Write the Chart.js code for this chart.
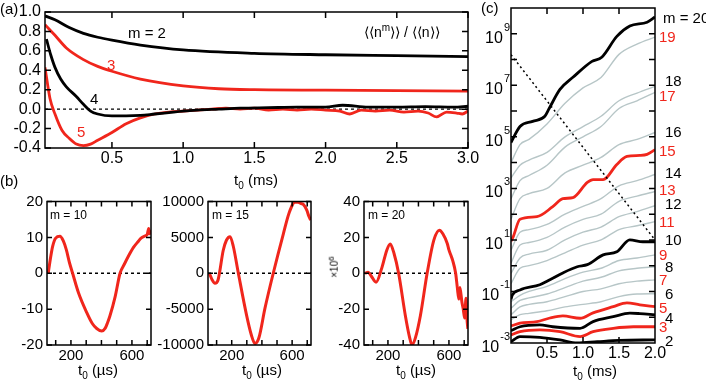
<!doctype html>
<html>
<head>
<meta charset="utf-8">
<script src="https://cdn.jsdelivr.net/npm/chart.js"></script>
<style>
body{margin:0;width:706px;height:386px;position:relative;overflow:hidden;background:#fff;font-family:"Liberation Sans",Arial,sans-serif;color:#000}
canvas{position:absolute}
.t{position:absolute;white-space:nowrap;line-height:1;font-size:15px}
.c{transform:translateX(-50%)}
.r{color:#f0261c}
sub,sup{font-size:10px;line-height:0}
</style>
</head>
<body>
<canvas id="ca" width="500" height="190" style="left:0;top:0"></canvas>
<canvas id="cb1" width="165" height="196" style="left:0;top:190px"></canvas>
<canvas id="cb2" width="170" height="196" style="left:150px;top:190px"></canvas>
<canvas id="cb3" width="170" height="196" style="left:315px;top:190px"></canvas>
<canvas id="cc" width="236" height="386" style="left:470px;top:0"></canvas>

<div class="t" style="left:0;top:1px">(a)</div>
<div class="t" style="left:0;top:173px">(b)</div>
<div class="t" style="left:481px;top:0">(c)</div>

<div class="t" style="left:128px;top:25px">m = 2</div>
<div class="t r" style="left:107px;top:57px">3</div>
<div class="t" style="left:90px;top:91px">4</div>
<div class="t r" style="left:77px;top:124px">5</div>
<div class="t" style="left:364px;top:25px;font-size:14px">⟨⟨n<sup>m</sup>⟩⟩ / ⟨⟨n⟩⟩</div>
<div class="t c" style="left:256px;top:172px">t<sub>0</sub> (ms)</div>

<div class="t" style="left:50px;top:209px;font-size:12px">m = 10</div>
<div class="t" style="left:212px;top:209px;font-size:12px">m = 15</div>
<div class="t" style="left:368px;top:209px;font-size:12px">m = 20</div>
<div class="t" style="left:324px;top:262px;font-size:10px;transform:rotate(-90deg);transform-origin:center">×10<sup style="font-size:8px">6</sup></div>
<div class="t c" style="left:98px;top:362px">t<sub>0</sub> (µs)</div>
<div class="t c" style="left:262px;top:362px">t<sub>0</sub> (µs)</div>
<div class="t c" style="left:416px;top:362px">t<sub>0</sub> (µs)</div>
<div class="t c" style="left:595px;top:363px">t<sub>0</sub> (ms)</div>

<div id="mlabels"></div>

<script>
// ---------- panel (a): <<n^m>>/<<n>> vs t0 (ms)
const aXTicks = [0.5, 1.0, 1.5, 2.0, 2.5, 3.0];
const aYTicks = [-0.4, -0.2, 0.0, 0.2, 0.4, 0.6, 0.8, 1.0];
const aT2 = [0.03, 0.1, 0.2, 0.3, 0.4, 0.5, 0.7, 1.0, 1.5, 2.0, 2.5, 3.0];
const aM2 = [0.96, 0.92, 0.84, 0.78, 0.74, 0.71, 0.66, 0.61, 0.575, 0.56, 0.55, 0.54];
const aT3 = [0.03, 0.1, 0.18, 0.3, 0.4, 0.5, 0.7, 1.0, 1.25, 1.5, 2.0, 2.5, 3.0];
const aM3 = [0.87, 0.76, 0.63, 0.51, 0.44, 0.39, 0.31, 0.24, 0.21, 0.20, 0.195, 0.19, 0.185];
const aT4 = [0.04, 0.07, 0.1, 0.14, 0.18, 0.25, 0.3, 0.35, 0.4, 0.5, 0.6, 0.7, 0.8, 0.9, 1.0, 1.1, 1.25, 1.4, 1.6, 1.8, 2.0, 2.12, 2.3, 2.5, 2.7, 2.9, 3.0];
const aM4 = [0.72, 0.56, 0.43, 0.31, 0.23, 0.13, 0.05, -0.02, -0.05, -0.07, -0.07, -0.065, -0.05, -0.035, -0.02, -0.01, 0.0, 0.01, 0.015, 0.02, 0.02, 0.04, 0.02, 0.02, 0.025, 0.02, 0.03];
const aT5 = [0.03, 0.065, 0.1, 0.15, 0.2, 0.25, 0.3, 0.35, 0.4, 0.5, 0.6, 0.7, 0.8, 0.9, 1.0, 1.1, 1.2, 1.3, 1.4, 1.5, 1.6, 1.7, 1.8, 1.9, 2.0, 2.1, 2.17, 2.25, 2.35, 2.45, 2.55, 2.65, 2.72, 2.78, 2.85, 2.92, 2.96, 3.0];
const aM5 = [0.43, 0.11, -0.05, -0.22, -0.30, -0.36, -0.375, -0.36, -0.32, -0.24, -0.15, -0.09, -0.05, -0.03, -0.02, -0.01, 0.0, 0.01, 0.0, 0.01, -0.01, 0.0, -0.01, 0.0, -0.01, -0.02, -0.05, -0.01, -0.02, -0.01, -0.03, -0.02, -0.04, -0.08, -0.03, -0.04, -0.05, -0.02];

// ---------- panel (b): m = 10, 15, 20 vs t0 (us)
const bXTicks = [200, 600];
const bXMarks = [100, 200, 300, 400, 500, 600, 700];
const b10YTicks = [-20, -10, 0, 10, 20];
const b15YTicks = [-10000, -5000, 0, 5000, 10000];
const b20YTicks = [-40, -20, 0, 20, 40];
const b10T = [51, 65, 80, 100, 128, 150, 170, 190, 211, 250, 303, 340, 369, 402, 425, 440, 455, 490, 522, 550, 580, 610, 640, 660, 680, 700, 710, 715, 725];
const b10V = [0, 4, 7.5, 9.8, 10.3, 9, 6.5, 3, 0, -5.5, -10.9, -14, -15.4, -16.1, -15.3, -13.8, -12, -6.5, 0, 2.5, 5.0, 7.2, 8.8, 9.8, 10.3, 10.8, 12.5, 11, 12];
const b15T = [52, 70, 89, 110, 144, 165, 189, 210, 244, 299, 330, 354, 380, 420, 475, 542, 580, 619, 640, 660, 674, 697, 710, 723];
const b15V = [0, -900, -1400, -900, 3200, 4600, 5100, 3800, 0, -5900, -8600, -9800, -9000, -4900, 0, 5500, 8400, 9900, 9900, 9700, 9600, 8800, 8000, 7400];
const b20T = [50, 70, 90, 122, 160, 193, 215, 240, 270, 314, 340, 358, 380, 413, 457, 501, 538, 560, 589, 600, 611, 625, 644, 655, 665, 672, 685, 694, 703, 712, 718, 724];
const b20V = [0, 0.5, -1.5, -5, 3, 13, 16.3, 11, 0, -23.5, -35, -40, -36, -23.5, 0, 18.5, 24, 22, 16.6, 13, 10.4, 7, 0, -8, -14.4, -8, -16, -20, -25, -14, -25, -31];

// ---------- panel (c): log10 <<n^m>>/<<n>> vs t0 (ms), m = 2..20
const cXTicks = [0.5, 1.0, 1.5, 2.0];
const cYLabelExp = [-3, -1, 1, 3, 5, 7, 9];
const cYMarkExp = [-2, -1, 0, 1, 2, 3, 4, 5, 6, 7, 8, 9];
const cT20 = [0, 0.125, 0.3, 0.47, 0.53, 0.68, 0.86, 1.125, 1.26, 1.47, 1.65, 1.89, 2.0];
const c20 = [4.78, 5.4, 5.6, 5.8, 6.1, 6.84, 7.31, 7.93, 8.09, 8.9, 9.3, 9.45, 9.65];
const cT15 = [0, 0.03, 0.125, 0.36, 0.58, 0.72, 0.86, 1.06, 1.14, 1.28, 1.47, 1.61, 1.79, 1.89, 2.0];
const c15 = [0.95, 1.12, 1.8, 1.9, 2.29, 2.6, 2.64, 3.23, 3.34, 3.34, 3.93, 4.24, 4.28, 4.32, 4.5];
const cT10 = [0, 0.02, 0.125, 0.4, 0.54, 0.72, 0.92, 1.06, 1.28, 1.47, 1.65, 1.83, 2.0];
const c10 = [-1.3, -1.13, -0.94, -0.74, -0.55, -0.28, -0.04, 0.04, 0.42, 0.54, 1.0, 0.93, 0.93];
const cT5 = [0, 0.125, 0.36, 0.54, 0.72, 0.96, 1.14, 1.42, 1.61, 1.79, 2.0];
const c5 = [-2.34, -2.23, -2.17, -2.03, -1.95, -2.04, -1.83, -1.59, -1.44, -1.52, -1.59];
const cT4 = [0, 0.125, 0.4, 0.58, 0.96, 1.14, 1.42, 1.65, 1.79, 2.0];
const c4 = [-2.52, -2.37, -2.3, -2.37, -2.43, -2.17, -1.98, -1.84, -1.86, -1.91];
const cT3 = [0, 0.125, 0.4, 0.68, 0.96, 1.14, 1.42, 1.7, 2.0];
const c3 = [-2.69, -2.56, -2.49, -2.56, -2.75, -2.56, -2.43, -2.37, -2.37];
const cT2 = [0, 0.125, 0.4, 0.68, 0.92, 1.2, 1.5, 2.0];
const c2 = [-2.95, -2.75, -2.78, -2.88, -3.0, -2.95, -2.9, -2.88];
const cTg = [0, 0.125, 0.25, 0.5, 0.75, 1.0, 1.25, 1.5, 1.75, 2.0];
const cGrey = {
  19: [4.0, 4.7, 4.9, 5.5, 6.3, 6.9, 7.3, 8.2, 8.6, 8.87],
  18: [3.4, 3.9, 4.1, 4.4, 5.0, 5.4, 5.8, 6.4, 6.7, 6.96],
  17: [2.6, 3.3, 3.5, 3.9, 4.6, 5.0, 5.4, 6.1, 6.4, 6.73],
  16: [1.8, 2.6, 2.8, 3.0, 3.6, 3.9, 4.2, 4.7, 4.9, 5.17],
  14: [0.6, 1.3, 1.4, 1.6, 2.0, 2.3, 2.6, 3.1, 3.3, 3.54],
  13: [0.1, 0.8, 0.9, 1.1, 1.5, 1.8, 2.0, 2.5, 2.7, 2.88],
  12: [-0.3, 0.3, 0.45, 0.6, 1.0, 1.3, 1.5, 1.9, 2.1, 2.33],
  11: [-0.7, -0.1, 0.0, 0.2, 0.5, 0.8, 1.0, 1.4, 1.55, 1.71],
  9: [-1.4, -1.15, -1.0, -0.8, -0.5, -0.25, -0.1, 0.2, 0.3, 0.42],
  8: [-1.65, -1.35, -1.25, -1.1, -0.85, -0.6, -0.45, -0.2, -0.1, -0.04],
  7: [-1.9, -1.6, -1.5, -1.4, -1.2, -1.0, -0.9, -0.7, -0.6, -0.55],
  6: [-2.1, -1.9, -1.85, -1.75, -1.6, -1.5, -1.4, -1.2, -1.1, -1.09]
};
const cDotT = [0, 2.0];
const cDot = [8.19, 1.0];

// right-hand m labels for panel (c): [text, red?, left, centre-y]
const cLabels = [
  ['m = 20', 0, 663, 18], ['19', 1, 659, 37], ['18', 0, 665, 81], ['17', 1, 659, 96],
  ['16', 0, 665, 132], ['15', 1, 659, 151], ['14', 0, 665, 173], ['13', 1, 659, 190],
  ['12', 0, 665, 204], ['11', 1, 659, 222], ['10', 0, 665, 240], ['9', 1, 659, 255],
  ['8', 0, 665, 267], ['7', 1, 659, 280], ['6', 0, 665, 294], ['5', 1, 659, 308],
  ['4', 0, 665, 318], ['3', 1, 659, 327], ['2', 0, 665, 341]
];

const FONT = '"Liberation Sans", Arial, sans-serif';
const RED = '#f0261c', GREY = '#b7c6c7', BLACK = '#000';

const lbl = document.getElementById('mlabels');
cLabels.forEach(([s, red, x, y]) => {
  const d = document.createElement('div');
  d.className = 't' + (red ? ' r' : '');
  d.style.left = x + 'px';
  d.style.top = (y - 8) + 'px';
  d.textContent = s;
  lbl.appendChild(d);
});

function line(xs, ys, color, width, map) {
  return {
    data: xs.map((x, i) => ({ x, y: map ? map(ys[i]) : ys[i] })),
    borderColor: color, borderWidth: width, pointRadius: 0, fill: false,
    cubicInterpolationMode: 'monotone'
  };
}
function dashed(x0, x1, y, dash) {
  const d = line([x0, x1], [y, y], BLACK, 1.3);
  d.borderDash = dash;
  return d;
}
const pow = e => Math.pow(10, e);

// box with inward tick marks on all four sides
const frame = {
  id: 'frame',
  afterDatasetsDraw(chart, args, o) {
    const { ctx, chartArea: a, scales: { x, y } } = chart;
    const L = o.len || 6;
    ctx.save();
    ctx.strokeStyle = BLACK;
    ctx.lineWidth = 1.5;
    ctx.strokeRect(a.left, a.top, a.right - a.left, a.bottom - a.top);
    ctx.beginPath();
    (o.xMarks || []).forEach(v => {
      const p = x.getPixelForValue(v);
      ctx.moveTo(p, a.top); ctx.lineTo(p, a.top + L);
      ctx.moveTo(p, a.bottom); ctx.lineTo(p, a.bottom - L);
    });
    (o.yMarks || []).forEach(v => {
      const p = y.getPixelForValue(v);
      ctx.moveTo(a.left, p); ctx.lineTo(a.left + L, p);
      ctx.moveTo(a.right, p); ctx.lineTo(a.right - L, p);
    });
    ctx.stroke();
    // 10^n labels for the log axis
    if (o.logLabels) {
      ctx.fillStyle = BLACK;
      ctx.textBaseline = 'alphabetic';
      ctx.textAlign = 'right';
      o.logLabels.forEach(e => {
        const p = y.getPixelForValue(pow(e));
        ctx.font = '11px ' + FONT;
        const s = String(e);
        const w = ctx.measureText(s).width;
        ctx.fillText(s, a.left - 1, p - 3);
        ctx.font = '16px ' + FONT;
        ctx.fillText('10', a.left - 2 - w, p + 9);
      });
    }
    ctx.restore();
  }
};

function opts(c) {
  const tickFont = { family: FONT, size: c.fs, lineHeight: 1 };
  return {
    responsive: false, animation: false, events: [],
    layout: { padding: c.pad },
    plugins: { legend: { display: false }, tooltip: { enabled: false }, frame: c.frame },
    scales: {
      x: {
        type: 'linear', min: c.x[0], max: c.x[1],
        grid: { display: false, drawTicks: false }, border: { display: false },
        ticks: { color: BLACK, font: tickFont, padding: 3, maxRotation: 0, autoSkip: false, callback: c.xFmt },
        afterBuildTicks: s => { s.ticks = c.xTicks.map(v => ({ value: v })); },
        afterFit: s => { s.height = c.xh; }
      },
      y: {
        type: c.yType || 'linear', min: c.y[0], max: c.y[1],
        grid: { display: false, drawTicks: false }, border: { display: false },
        ticks: { display: !c.noYLabels, color: BLACK, font: tickFont, padding: 4, autoSkip: false, callback: c.yFmt },
        afterBuildTicks: s => { s.ticks = c.yTicks.map(v => ({ value: v })); },
        afterFit: s => { s.width = c.yw; }
      }
    }
  };
}

// panel (a)
new Chart(document.getElementById('ca'), {
  type: 'line',
  data: { datasets: [
    line(aT4, aM4, BLACK, 2.8),
    line(aT5, aM5, RED, 2.8),
    line(aT2, aM2, BLACK, 2.8),
    line(aT3, aM3, RED, 2.8),
    dashed(0.03, 3.0, 0, [3, 3])
  ] },
  options: opts({
    pad: { left: 0, top: 8, right: 32, bottom: 0 }, xh: 42, yw: 45, fs: 16,
    x: [0.03, 3.0], y: [-0.4, 1.0], xTicks: aXTicks, yTicks: aYTicks,
    xFmt: v => v.toFixed(1), yFmt: v => v.toFixed(1),
    frame: { xMarks: aXTicks, yMarks: aYTicks, len: 6 }
  }),
  plugins: [frame]
});

// panel (b)
function bChart(id, T, V, yTicks, yw, padR) {
  new Chart(document.getElementById(id), {
    type: 'line',
    data: { datasets: [line(T, V, RED, 3), dashed(43, 725, 0, [3, 3])] },
    options: opts({
      pad: { left: 0, top: 9, right: padR, bottom: 0 }, xh: 41, yw, fs: 15,
      x: [43, 725], y: [yTicks[0], yTicks[yTicks.length - 1]], xTicks: bXTicks, yTicks,
      xFmt: v => String(v), yFmt: v => String(v),
      frame: { xMarks: bXMarks, yMarks: yTicks, len: 5 }
    }),
    plugins: [frame]
  });
}
bChart('cb1', b10T, b10V, b10YTicks, 47, 14);
bChart('cb2', b15T, b15V, b15YTicks, 58, 9);
bChart('cb3', b20T, b20V, b20YTicks, 49, 17);

// panel (c)
const cSets = [];
cSets.push(line(cT20, c20, BLACK, 2.8, pow));
cSets.push(line(cT15, c15, RED, 2.8, pow));
cSets.push(line(cT10, c10, BLACK, 2.8, pow));
cSets.push(line(cT5, c5, RED, 2.8, pow));
cSets.push(line(cT4, c4, BLACK, 2.8, pow));
cSets.push(line(cT3, c3, RED, 2.8, pow));
cSets.push(line(cT2, c2, BLACK, 2.8, pow));
const dot = line(cDotT, cDot, BLACK, 1.5, pow);
dot.borderDash = [2, 3];
cSets.unshift(dot);
Object.keys(cGrey).forEach(m => cSets.push(line(cTg, cGrey[m], GREY, 1.4, pow)));

new Chart(document.getElementById('cc'), {
  type: 'line',
  data: { datasets: cSets },
  options: opts({
    pad: { left: 0, top: 8, right: 51, bottom: 0 }, xh: 43, yw: 41, fs: 16,
    x: [0, 2.0], y: [1e-3, 1e10], yType: 'logarithmic', noYLabels: true,
    xTicks: cXTicks, yTicks: cYMarkExp.map(pow),
    xFmt: v => v.toFixed(1), yFmt: () => '',
    frame: { xMarks: [0.5, 1.0, 1.5], yMarks: cYMarkExp.map(pow), len: 6, logLabels: cYLabelExp }
  }),
  plugins: [frame]
});
</script>
</body>
</html>
